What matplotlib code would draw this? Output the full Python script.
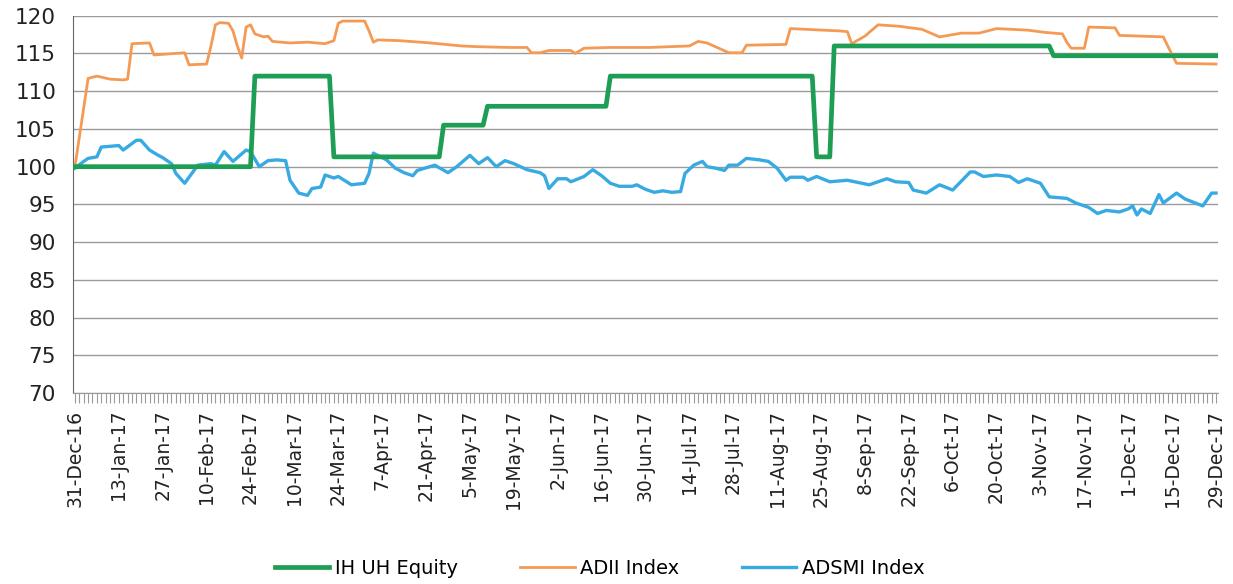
import matplotlib
matplotlib.use("Agg")
import matplotlib.pyplot as plt
import numpy as np
import pandas as pd

# %% Data (trading-day index -> level)
dates = [pd.Timestamp("2016-12-31")] + list(pd.bdate_range("2017-01-02", "2017-12-29"))
date_labels = [f"{d.day}-{d.strftime('%b-%y')}" for d in dates]

ih_idx = [0, 40, 41, 58, 59, 83, 84, 93, 94, 121, 122, 168, 169, 172, 173, 222, 223, 260]
ih_val = [100, 100, 112, 112, 101.3, 101.3, 105.5, 105.5, 108, 108, 112, 112,
          101.3, 101.3, 116, 116, 114.7, 114.7]

adii_idx = [0, 3, 5, 8, 11, 12, 13, 17, 18, 25, 26, 30, 31, 32, 33, 35, 36, 37, 38,
            39, 40, 41, 43, 44, 45, 49, 53, 57, 59, 60, 61, 66, 67, 68, 69, 74, 81,
            88, 92, 99, 103, 104, 106, 108, 113, 114, 116, 122, 131, 140, 142, 144,
            149, 152, 153, 162, 163, 174, 176, 177, 180, 183, 188, 193, 197, 202,
            206, 210, 217, 221, 225, 226, 227, 230, 231, 237, 238, 248, 249, 251, 260]
adii_val = [100, 111.7, 112.0, 111.6, 111.5, 111.6, 116.3, 116.4, 114.8, 115.1,
            113.5, 113.6, 116.0, 118.8, 119.1, 119.0, 118.0, 116.0, 114.4, 118.5,
            118.8, 117.6, 117.2, 117.3, 116.6, 116.4, 116.5, 116.3, 116.7, 119.0,
            119.3, 119.3, 118.0, 116.5, 116.8, 116.7, 116.4, 116.0, 115.9, 115.8,
            115.8, 115.1, 115.1, 115.4, 115.4, 115.0, 115.7, 115.8, 115.8, 116.0,
            116.6, 116.4, 115.1, 115.1, 116.1, 116.2, 118.3, 118.0, 117.9, 116.3,
            117.3, 118.8, 118.6, 118.2, 117.2, 117.7, 117.7, 118.3, 118.1, 117.8,
            117.6, 116.5, 115.7, 115.7, 118.5, 118.4, 117.4, 117.2, 116.0, 113.7, 113.6]

adsmi_idx = [0, 2, 3, 5, 6, 10, 11, 14, 15, 17, 19, 20, 22, 23, 25, 26, 28, 31, 32,
             34, 36, 39, 40, 42, 44, 46, 48, 49, 51, 53, 54, 56, 57, 59, 60, 63, 66,
             67, 68, 71, 73, 75, 77, 78, 82, 85, 87, 90, 92, 94, 96, 98, 100, 103,
             106, 107, 108, 110, 112, 113, 116, 118, 120, 122, 124, 127, 128, 130,
             132, 134, 136, 138, 139, 141, 143, 144, 146, 148, 149, 151, 153, 156,
             158, 160, 162, 163, 166, 167, 169, 172, 176, 181, 185, 187, 190, 191,
             194, 197, 200, 204, 205, 207, 210, 213, 215, 217, 220, 222, 226, 228,
             231, 233, 235, 238, 240, 241, 242, 243, 245, 247, 248, 251, 253, 257,
             259, 260]
adsmi_val = [99.8, 100.7, 101.1, 101.3, 102.6, 102.8, 102.2, 103.5, 103.5, 102.2,
             101.5, 101.2, 100.4, 99.1, 97.8, 98.6, 100.2, 100.4, 100.2, 102.0,
             100.7, 102.2, 102.0, 100.0, 100.8, 100.9, 100.8, 98.2, 96.5, 96.2,
             97.1, 97.3, 98.9, 98.5, 98.7, 97.6, 97.8, 99.1, 101.8, 100.9, 99.8,
             99.2, 98.8, 99.5, 100.2, 99.2, 100.0, 101.5, 100.4, 101.2, 100.0,
             100.8, 100.4, 99.6, 99.2, 98.8, 97.1, 98.4, 98.4, 98.0, 98.7, 99.6,
             98.8, 97.8, 97.4, 97.4, 97.6, 97.0, 96.6, 96.8, 96.6, 96.7, 99.1,
             100.2, 100.7, 100.0, 99.8, 99.5, 100.2, 100.2, 101.1, 100.9, 100.7,
             99.8, 98.2, 98.6, 98.6, 98.2, 98.7, 98.0, 98.2, 97.6, 98.4, 98.0,
             97.9, 96.9, 96.5, 97.6, 96.9, 99.3, 99.3, 98.7, 98.9, 98.7, 97.9,
             98.4, 97.8, 96.0, 95.8, 95.2, 94.6, 93.8, 94.2, 94.0, 94.4, 94.8,
             93.6, 94.4, 93.8, 96.3, 95.2, 96.5, 95.7, 94.8, 96.5, 96.5]

# %% Plot
fig = plt.figure(figsize=(12.33, 5.84), dpi=100)
ax = fig.add_axes([0.059, 0.327, 0.929, 0.646])

ax.plot(ih_idx, ih_val, color="#1e9e55", lw=3.4, label="IH UH Equity", zorder=3)
ax.plot(adii_idx, adii_val, color="#f59a55", lw=2.0, label="ADII Index", zorder=2)
ax.plot(adsmi_idx, adsmi_val, color="#38aae2", lw=2.4, label="ADSMI Index", zorder=2)

ax.set_ylim(70, 120)
ax.set_yticks(np.arange(70, 121, 5))
ax.set_xlim(-0.5, 260.5)
ax.set_xticks(range(0, len(dates), 10))
ax.set_xticklabels(date_labels[::10], rotation=90, fontsize=13.5, color="#222222")
ax.set_xticks(range(len(dates)), minor=True)
ax.tick_params(axis="x", which="both", length=7, color="#9a9a9a", width=0.8, pad=5)
ax.tick_params(axis="y", length=0, labelsize=15.5, labelcolor="#222222", pad=12)

ax.grid(axis="y", color="#9a9a9a", lw=1.0)
ax.set_axisbelow(True)
for s in ["top", "right"]:
    ax.spines[s].set_visible(False)
ax.spines["left"].set_color("#666666")
ax.spines["bottom"].set_color("#9a9a9a")

ax.legend(loc="center", bbox_to_anchor=(0.46, -0.465), ncol=3, frameon=False,
          fontsize=14, handlelength=2.8, handletextpad=0.3, columnspacing=3.2)

fig.savefig("out.png", dpi=100)
